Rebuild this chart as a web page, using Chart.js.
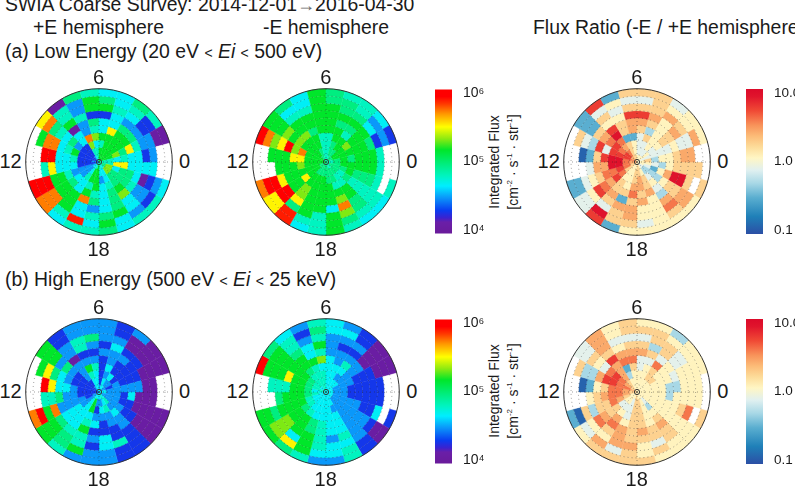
<!DOCTYPE html>
<html>
<head>
<meta charset="utf-8">
<title>SWIA Coarse Survey</title>
<script src="https://cdn.jsdelivr.net/npm/chart.js@4"></script>
<style>
  html, body { margin: 0; padding: 0; background: #fff; }
  #page { position: relative; width: 795px; height: 486px; overflow: hidden; font-family: "Liberation Sans", Arial, sans-serif; color: #1a1a1a; }
  #page canvas { position: absolute; }
  .txt { position: absolute; white-space: nowrap; line-height: 1; font-size: 19.4px; }
  .hour { font-size: 20px; transform: translate(-50%, -50%); }
  .lt { font-size: 14px; }
  .arrow { font-size: 18px; color: #666; }
  .cbtitle { font-size: 14px; transform: translate(-50%, -50%) rotate(-90deg); }
  .cbtitle sup { font-size: 8px; line-height: 0; }
</style>
</head>
<body>
<div id="page">
  <div class="txt" style="left:5px;top:-5px">SWIA Coarse Survey: 2014-12-01<span class="arrow">&#8594;</span>2016-04-30</div>
  <div class="txt" style="left:33px;top:18px">+E hemisphere</div>
  <div class="txt" style="left:263px;top:18px">-E hemisphere</div>
  <div class="txt" style="left:533px;top:18px">Flux Ratio (-E / +E hemisphere)</div>
  <div class="txt" style="left:5px;top:42px">(a) Low Energy (20 eV <span class="lt">&lt;</span> <i>Ei</i> <span class="lt">&lt;</span> 500 eV)</div>
  <div class="txt" style="left:5px;top:270px">(b) High Energy (500 eV <span class="lt">&lt;</span> <i>Ei</i> <span class="lt">&lt;</span> 25 keV)</div>
  <div class="txt cbtitle" style="left:494px;top:162px">Integrated Flux</div>
  <div class="txt cbtitle" style="left:513px;top:162px">[cm<sup>-2</sup> &#183; s<sup>-1</sup> &#183; str<sup>-1</sup>]</div>
  <div class="txt cbtitle" style="left:494px;top:391px">Integrated Flux</div>
  <div class="txt cbtitle" style="left:513px;top:391px">[cm<sup>-2</sup> &#183; s<sup>-1</sup> &#183; str<sup>-1</sup>]</div>
</div>
<script>
// Flux levels, log10 of integrated flux. _ marks a bin with no coverage.
const _ = null, P = 4.1, B = 4.3, S = 4.5, C = 4.68, T = 4.8, G = 4.96, H = 5.16, L = 5.3, Y = 5.5, O = 5.7, R = 5.85, D = 6;
// Ratio levels, log10 of (-E / +E).
const b = -0.9, s = -0.5, l = -0.3, p = -0.1, y = 0.07, a = 0.25, o = 0.42, m = 0.58, r = 0.75, d = 0.92;

const hourLabels = ["6", "12", "18", "0"];
const fluxTicks = [1e4, 1e5, 1e6];
const ratioTicks = [0.1, 1, 10];

// Each table: one row per ring (outer rim first), one column per local-time hour 0..23.
const lowPlus = [
  [_,P,T,G,C,C,T,G,P,Y,_,_,_,D,O,C,T,T,G,C,T,T,C,_],
  [_,P,B,T,C,G,H,S,T,O,H,_,_,D,O,T,R,C,H,C,S,B,S,_],
  [S,S,B,C,T,H,H,S,T,G,O,D,T,D,O,H,C,T,G,H,C,S,B,C],
  [B,S,S,S,C,B,B,T,H,T,O,D,Y,H,H,H,C,S,C,G,C,S,P,C],
  [C,T,G,G,C,C,G,S,P,C,C,C,C,H,H,H,O,G,C,G,L,T,C,C],
  [C,Y,H,H,Y,C,T,S,C,G,T,C,C,T,G,C,H,T,C,G,H,G,G,C],
  [T,G,H,H,H,H,L,O,C,S,H,T,C,S,C,C,T,H,C,T,G,G,G,Y],
  [C,L,H,H,H,T,C,L,B,B,B,B,B,S,S,T,H,H,S,C,G,G,C,Y],
  [T,H,H,H,H,H,T,T,B,B,B,B,B,S,S,C,H,H,C,C,L,L,L,T],
  [T,H,H,H,H,H,T,C,S,B,B,S,B,S,C,C,T,H,T,C,T,G,G,T],
];
const lowMinus = [
  [_,B,C,T,T,G,H,C,G,H,D,_,_,O,Y,R,C,T,H,T,C,C,T,_],
  [_,S,S,T,G,G,H,C,C,H,O,_,_,D,Y,R,T,T,H,G,T,T,_,_],
  [T,B,C,G,G,H,H,T,T,H,L,H,_,D,D,G,H,T,H,L,G,T,T,T],
  [H,G,H,H,H,H,H,H,H,L,Y,H,H,Y,D,Y,H,H,C,O,G,T,G,H],
  [H,H,H,G,G,H,H,H,H,H,D,H,H,H,H,L,H,H,H,L,H,T,G,H],
  [H,H,H,T,H,H,H,G,L,L,L,Y,H,H,H,L,H,H,H,H,H,T,G,H],
  [G,H,L,H,H,T,T,H,H,H,O,Y,L,H,Y,H,H,H,H,T,T,G,H,H],
  [H,H,H,H,G,T,T,H,H,H,H,H,H,H,H,H,H,H,G,G,T,T,G,H],
  [G,H,H,G,G,T,T,G,H,H,H,H,H,H,H,G,G,G,G,G,G,G,G,G],
  [T,G,G,G,T,T,T,G,G,H,H,H,H,G,G,G,G,G,G,T,T,G,G,T],
];
const lowRatio = [
  [_,y,y,p,a,a,a,s,r,s,_,_,_,s,p,r,s,y,y,y,y,y,a,_],
  [_,o,y,y,a,p,p,y,p,s,a,_,_,s,p,d,a,a,p,y,a,o,_,a],
  [o,p,a,o,a,a,a,p,a,s,p,b,_,p,y,p,a,o,y,y,m,o,a,a],
  [o,p,o,y,o,r,r,y,y,a,l,s,p,y,r,a,o,o,y,y,o,a,d,a],
  [a,y,a,y,a,o,o,a,r,o,r,a,o,a,m,o,s,a,o,y,l,a,d,a],
  [y,p,a,y,l,a,o,a,d,m,p,r,o,m,o,a,a,m,a,o,p,y,o,y],
  [y,p,y,y,a,p,s,s,m,r,r,d,d,m,r,a,y,o,o,a,y,l,y,l],
  [l,p,p,y,p,p,y,a,o,m,r,d,d,r,m,y,y,a,o,a,p,l,s,p],
  [a,p,y,p,p,p,y,a,m,r,r,m,m,m,a,y,y,a,a,y,l,l,p,y],
  [y,p,y,y,y,y,a,a,o,o,m,o,o,a,a,y,y,y,a,y,p,p,y,y],
];
const highPlus = [
  [_,P,P,S,B,S,S,S,B,H,_,_,_,O,H,T,S,S,S,B,B,P,P,_],
  [_,P,P,P,B,S,S,S,B,H,H,_,_,D,H,G,H,S,S,B,B,P,P,_],
  [P,P,P,P,S,S,G,T,S,H,Y,D,T,H,H,G,T,B,C,T,B,P,P,P],
  [P,P,B,B,C,B,S,T,S,S,G,Y,T,O,G,T,T,S,C,B,B,P,P,P],
  [S,B,B,S,S,S,B,B,P,G,C,C,G,S,C,C,H,B,B,B,S,B,P,P],
  [S,B,B,B,S,B,S,S,S,S,S,C,S,S,C,C,T,C,B,S,S,B,B,C],
  [S,B,B,B,C,B,T,H,S,B,B,S,S,S,C,C,C,S,S,S,C,S,B,B],
  [S,S,B,C,S,B,C,T,S,B,B,B,B,S,S,C,H,B,C,T,S,S,S,S],
  [S,B,S,S,C,B,C,C,B,B,B,B,B,B,S,C,H,S,S,C,T,S,S,S],
  [C,S,S,C,C,S,C,C,S,B,B,B,B,S,S,C,C,C,C,T,C,S,S,C],
];
const highMinus = [
  [_,P,P,B,S,C,T,S,C,G,D,_,_,H,H,G,T,S,S,T,B,P,B,_],
  [_,P,P,B,C,C,G,B,T,H,H,_,_,H,L,Y,H,C,C,T,B,P,_,_],
  [B,P,P,S,S,S,T,S,T,H,H,T,_,G,L,C,H,T,C,C,S,B,C,B],
  [B,B,P,B,B,S,H,C,G,H,H,T,G,H,L,H,H,T,S,T,S,S,B,B],
  [B,B,S,S,S,S,T,C,H,H,Y,T,H,H,H,H,G,T,C,C,S,S,B,B],
  [B,B,S,T,S,C,L,H,H,H,H,H,H,H,H,H,G,T,C,C,S,S,S,B],
  [B,S,S,C,C,C,C,T,G,H,H,H,H,H,G,T,C,C,C,C,S,S,S,B],
  [S,S,S,S,C,C,T,T,T,G,G,G,G,T,T,C,C,C,C,S,S,S,S,S],
  [S,S,C,C,C,C,T,T,T,T,T,C,T,C,C,C,C,C,C,C,S,S,S,S],
  [C,C,C,C,C,C,T,T,C,C,T,T,C,C,C,C,C,C,C,C,C,C,C,C],
];
const highRatio = [
  [_,y,y,l,y,y,a,y,o,p,_,_,_,s,y,a,a,a,a,y,y,y,a,_],
  [y,y,y,y,a,a,a,y,o,p,a,_,_,b,p,o,p,a,y,a,y,y,_,y],
  [y,y,p,a,a,p,p,p,o,a,l,b,_,a,y,y,o,o,y,p,a,y,m,y],
  [y,y,p,a,l,a,a,y,a,y,l,s,y,l,m,a,o,a,a,a,a,y,a,y],
  [l,p,y,p,a,o,o,o,r,p,o,y,a,a,o,m,o,a,o,a,o,y,y,y],
  [l,y,y,m,p,p,m,m,o,m,r,a,o,a,a,o,y,a,a,y,a,y,y,l],
  [y,y,y,a,y,p,a,s,o,r,r,m,m,m,a,y,p,a,a,y,y,y,y,y],
  [y,y,a,a,y,y,y,l,o,m,m,m,m,o,p,p,p,a,a,y,l,y,y,y],
  [y,y,y,y,y,y,y,y,a,o,m,o,o,a,y,y,p,a,a,y,p,y,y,y],
  [y,y,y,y,y,y,y,y,a,a,o,a,a,y,y,y,y,a,y,y,y,y,y,y],
];

const fluxStops = [
  [0, "#6a1b9a"], [0.08, "#6a1fa8"], [0.11, "#3a22d0"], [0.16, "#0a3cf0"], [0.25, "#0a98fa"],
  [0.33, "#00eeff"], [0.4, "#00f4c0"], [0.48, "#00ee80"], [0.58, "#00e62a"], [0.66, "#90ea10"],
  [0.74, "#ffff00"], [0.83, "#ff9800"], [0.9, "#ff3800"], [0.95, "#ff0000"], [1, "#ff0000"],
];
const ratioStops = [
  [0, "#2b4fa5"], [0.12, "#1f80b8"], [0.25, "#5aaed0"], [0.35, "#a8d8e6"], [0.44, "#e0f0f0"],
  [0.525, "#fff6c4"], [0.6, "#fddc9a"], [0.675, "#fcbc78"], [0.75, "#f8935a"], [0.85, "#f04a35"],
  [0.95, "#e0142c"], [1, "#dc0a2a"],
];

function hexToRgb(hex) {
  return [1, 3, 5].map((i) => parseInt(hex.slice(i, i + 2), 16));
}

function rampColor(stops, frac) {
  const t = Math.min(1, Math.max(0, frac));
  for (let i = 1; i < stops.length; i++) {
    if (t <= stops[i][0]) {
      const [f0, c0] = stops[i - 1];
      const [f1, c1] = stops[i];
      const k = (t - f0) / (f1 - f0 || 1);
      const low = hexToRgb(c0);
      const high = hexToRgb(c1);
      return `rgb(${low.map((v, j) => Math.round(v + (high[j] - v) * k)).join(",")})`;
    }
  }
  return stops[stops.length - 1][1];
}

const fluxColor = (v) => (v === null ? "#ffffff" : rampColor(fluxStops, (v - 4) / 2));
const ratioColor = (v) => (v === null ? "#ffffff" : rampColor(ratioStops, (v + 1) / 2));

const page = document.getElementById("page");

function addCanvas(left, top, width, height) {
  const canvas = document.createElement("canvas");
  canvas.width = width;
  canvas.height = height;
  canvas.style.cssText = `left:${left}px;top:${top}px;width:${width}px;height:${height}px`;
  page.appendChild(canvas);
  return canvas;
}

function addHourText(text, x, yPos) {
  const el = document.createElement("div");
  el.className = "txt hour";
  el.textContent = text;
  el.style.left = x + "px";
  el.style.top = yPos + "px";
  page.appendChild(el);
}

// Dotted polar grid, rim and centre ring on top of the cells
const polarGrid = {
  id: "polarGrid",
  afterDatasetsDraw(chart) {
    const ctrl = chart.getDatasetMeta(0).controller;
    const area = chart.chartArea;
    const cx = (area.left + area.right) / 2;
    const cy = (area.top + area.bottom) / 2;
    const outer = ctrl.outerRadius;
    const ringStep = outer / chart.data.datasets.length;
    const g = chart.ctx;
    g.save();
    g.strokeStyle = "rgba(40,40,40,0.75)";
    g.lineWidth = 0.6;
    g.setLineDash([1, 3]);
    for (let i = 1; i < chart.data.datasets.length; i++) {
      g.beginPath();
      g.arc(cx, cy, ringStep * i, 0, Math.PI * 2);
      g.stroke();
    }
    for (let deg = 0; deg < 360; deg += 45) {
      const rad = (deg * Math.PI) / 180;
      g.beginPath();
      g.moveTo(cx, cy);
      g.lineTo(cx + outer * Math.cos(rad), cy + outer * Math.sin(rad));
      g.stroke();
    }
    g.setLineDash([]);
    g.strokeStyle = "#333";
    g.lineWidth = 1;
    g.beginPath();
    g.arc(cx, cy, outer, 0, Math.PI * 2);
    g.stroke();
    g.beginPath();
    g.arc(cx, cy, 2.6, 0, Math.PI * 2);
    g.stroke();
    g.restore();
  },
};

function drawPolar(rings, colorOf, cx, cy) {
  const size = 152;
  const canvas = addCanvas(cx - size / 2, cy - size / 2, size, size);
  // dataset 0 is the outermost doughnut ring; slices run clockwise, hours anticlockwise from the right
  const datasets = rings.map((row) => {
    const colors = row.slice().reverse().map(colorOf);
    return {
      data: row.map(() => 1),
      backgroundColor: colors,
      borderColor: colors,
      borderWidth: 0.4,
    };
  });
  new Chart(canvas, {
    type: "doughnut",
    data: { labels: rings[0].map((_v, i) => String(23 - i)), datasets },
    options: {
      responsive: false,
      animation: false,
      rotation: 90,
      cutout: 0,
      radius: 73.3,
      layout: { padding: 0 },
      plugins: { legend: { display: false }, tooltip: { enabled: false } },
    },
    plugins: [polarGrid],
  });
  addHourText(hourLabels[0], cx, cy - 85);
  addHourText(hourLabels[1], cx - 88, cy - 1);
  addHourText(hourLabels[2], cx, cy + 87);
  addHourText(hourLabels[3], cx + 86, cy - 1);
}

function drawColorbar(left, top, stops, range, ticks, tickText, fontSize) {
  const barWidth = 17;
  const axisWidth = 34;
  const barHeight = 147;
  const pad = 10;
  const canvas = addCanvas(left, top - pad, barWidth + axisWidth, barHeight + pad * 2);
  new Chart(canvas, {
    type: "bar",
    data: {
      labels: ["scale"],
      datasets: [{
        data: [range],
        barPercentage: 1,
        categoryPercentage: 1,
        backgroundColor(ctx) {
          const area = ctx.chart.chartArea;
          if (!area) return stops[0][1];
          const grad = ctx.chart.ctx.createLinearGradient(0, area.bottom, 0, area.top);
          stops.forEach(([f, c]) => grad.addColorStop(f, c));
          return grad;
        },
      }],
    },
    options: {
      responsive: false,
      animation: false,
      layout: { padding: { top: pad, bottom: pad } },
      plugins: { legend: { display: false }, tooltip: { enabled: false } },
      scales: {
        x: { display: false },
        y: {
          type: "logarithmic",
          position: "right",
          min: range[0],
          max: range[1],
          grid: { display: false },
          border: { display: false },
          afterBuildTicks(scale) { scale.ticks = ticks.map((value) => ({ value, major: true })); },
          afterFit(scale) { scale.width = axisWidth; },
          ticks: {
            padding: 3,
            autoSkip: false,
            maxRotation: 0,
            color: "#1a1a1a",
            font: { family: "Liberation Sans", size: fontSize },
            callback: (value) => tickText(value),
          },
        },
      },
    },
  });
}

const fluxTickText = (v) => "10" + { 4: "\u2074", 5: "\u2075", 6: "\u2076" }[Math.round(Math.log10(v))];
const ratioTickText = (v) => v.toFixed(1);
const fluxRange = [Math.pow(10, 3.945), Math.pow(10, 6.055)];
const ratioRange = [Math.pow(10, -1.055), Math.pow(10, 1.055)];

drawPolar(lowPlus, fluxColor, 98.5, 161.8);
drawPolar(lowMinus, fluxColor, 325.7, 161.8);
drawPolar(lowRatio, ratioColor, 636.7, 161.8);
drawPolar(highPlus, fluxColor, 98.5, 392.3);
drawPolar(highMinus, fluxColor, 325.7, 392.3);
drawPolar(highRatio, ratioColor, 636.7, 392.3);

drawColorbar(435, 88, fluxStops, fluxRange, fluxTicks, fluxTickText, 14);
drawColorbar(435, 318, fluxStops, fluxRange, fluxTicks, fluxTickText, 14);
drawColorbar(746, 88, ratioStops, ratioRange, ratioTicks, ratioTickText, 13.5);
drawColorbar(746, 318, ratioStops, ratioRange, ratioTicks, ratioTickText, 13.5);
</script>
</body>
</html>
